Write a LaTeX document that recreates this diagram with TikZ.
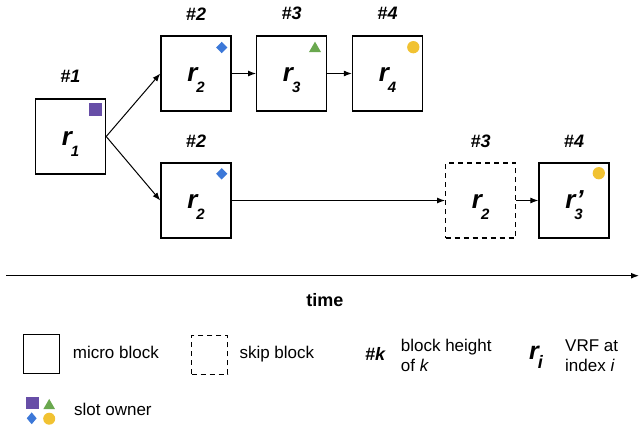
\documentclass[tikz,border=0pt]{standalone}
\usepackage{fontspec}
\setmainfont{Liberation Sans}
\usetikzlibrary{arrows.meta,shapes.geometric}
\definecolor{cpurple}{HTML}{674EA7}
\definecolor{cblue}{HTML}{3C78D8}
\definecolor{cgreen}{HTML}{6AA84F}
\definecolor{cyellow}{HTML}{F1C232}
\newcommand{\rsub}[1]{\fontsize{26}{26}\selectfont\bfseries\itshape r\kern-1pt\raisebox{-11pt}{\fontsize{15}{15}\selectfont #1}}
\newcommand{\rprimesub}[1]{\fontsize{26}{26}\selectfont\bfseries\itshape r\kern-1pt\rlap{\kern2pt ’}\raisebox{-11pt}{\fontsize{15}{15}\selectfont #1}}
\begin{document}
\begin{tikzpicture}[x=1pt,y=-1pt,
  blk/.style={draw, line width=1.4pt, minimum width=70pt, minimum height=75pt, inner sep=0pt},
  skipblk/.style={blk, dash pattern=on 5pt off 4pt},
  hgt/.style={font=\fontsize{18}{18}\selectfont\bfseries\itshape, inner sep=0pt},
  rlab/.style={anchor=base, inner sep=0pt},
  arr/.style={-{Latex[length=8pt,width=6pt]}, line width=1pt},
  legtxt/.style={font=\fontsize{17}{17}\selectfont, inner sep=0pt, anchor=base west},
  sqm/.style={fill=cpurple, minimum width=12.5pt, minimum height=12.5pt, inner sep=0pt},
  diam/.style={diamond, fill=cblue, minimum width=11.4pt, minimum height=11.6pt, inner sep=0pt},
  trim/.style={regular polygon, regular polygon sides=3, fill=cgreen, minimum size=13.9pt, inner sep=0pt},
  circm/.style={circle, fill=cyellow, minimum size=12.3pt, inner sep=0pt}
]
\useasboundingbox (0,0) rectangle (639,426);

% blocks
\node[blk] (r1) at (70.5,136.5) {};
\node[blk] (a2) at (196,73.5) {};
\node[blk] (a3) at (291.7,73.5) {};
\node[blk] (a4) at (387.5,73.5) {};
\node[blk] (b2) at (196,200.5) {};
\node[skipblk] (b3) at (480.7,200.5) {};
\node[blk] (b4) at (574,200.5) {};

% r labels
\node[rlab] (lr1) at ([yshift=-8.5pt]r1.center) {\rsub{1}};
\node[rlab] (la2) at ([yshift=-8pt]a2.center) {\rsub{2}};
\node[rlab] (la3) at ([yshift=-8pt]a3.center) {\rsub{3}};
\node[rlab] (la4) at ([yshift=-8pt]a4.center) {\rsub{4}};
\node[rlab] (lb2) at ([yshift=-8pt]b2.center) {\rsub{2}};
\node[rlab] (lb3) at ([yshift=-8pt]b3.center) {\rsub{2}};
\node[rlab] (lb4) at ([yshift=-8pt]b4.center) {\rprimesub{3}};

% heights
\node[hgt] (h1) at ([yshift=21.5pt]r1.north) {\#1};
\node[hgt] (ha2) at ([yshift=21.5pt]a2.north) {\#2};
\node[hgt] (ha3) at ([yshift=21.5pt]a3.north) {\#3};
\node[hgt] (ha4) at ([yshift=21.5pt]a4.north) {\#4};
\node[hgt] (hb2) at ([yshift=21pt]b2.north) {\#2};
\node[hgt] (hb3) at ([yshift=21pt]b3.north) {\#3};
\node[hgt] (hb4) at ([yshift=21pt]b4.north) {\#4};

% slot owner markers
\node[sqm] (m1) at (95.3,109.5) {};
\node[diam] (ma2) at (221.7,47.5) {};
\node[trim] (ma3) at (315,48.6) {};
\node[circm] (ma4) at (413.3,47.2) {};
\node[diam] (mb2) at (221.7,173.8) {};
\node[circm] (mb4) at (598.8,173.2) {};

% connectors
\draw[arr] (r1.east) -- (a2.west);
\draw[arr] (r1.east) -- (b2.west);
\draw[arr] (a2) -- (a3);
\draw[arr] (a3) -- (a4);
\draw[arr] (b2) -- (b3);
\draw[arr] (b3) -- (b4);

% time axis
\coordinate (t0) at (6,275.7);
\coordinate (t1) at (639,275.7);
\draw[arr, line width=1.3pt] (t0) -- (t1);
\node[inner sep=0pt, anchor=base, font=\fontsize{18}{18}\selectfont\bfseries] (time) at (325,306.7) {time};

% legend
\node[blk, minimum width=36pt, minimum height=39pt] (lm) at (41.3,353.8) {};
\node[legtxt] (lmt) at (72.7,358.3) {micro block};
\node[skipblk, minimum width=36pt, minimum height=38.6pt] (ls) at (209.7,355) {};
\node[legtxt] (lst) at (239.3,358.3) {skip block};
\node[hgt, anchor=base west] (lk) at (365,360) {\#k};
\node[legtxt] (lkt1) at (400.7,351) {block height};
\node[legtxt] (lkt2) at (400.7,371.7) {of \textit{k}};
\node[inner sep=0pt, anchor=base west] (lri) at (529,359) {\fontsize{25}{25}\selectfont\bfseries\itshape r\kern-1pt\raisebox{-9pt}{\fontsize{18}{18}\selectfont i}};
\node[legtxt] (lrt1) at (565,351) {VRF at};
\node[legtxt] (lrt2) at (565,371.7) {index \textit{i}};

\node[sqm, minimum width=13pt, minimum height=12pt] (os) at (32.5,403.3) {};
\node[trim, minimum size=13.5pt] (ot) at (49.2,405.7) {};
\node[diam, minimum width=10pt, minimum height=12pt] (od) at (31.7,418.3) {};
\node[circm, minimum size=12pt] (oc) at (49.2,418.7) {};
\node[legtxt] (ost) at (74,415) {slot owner};
\end{tikzpicture}
\end{document}
